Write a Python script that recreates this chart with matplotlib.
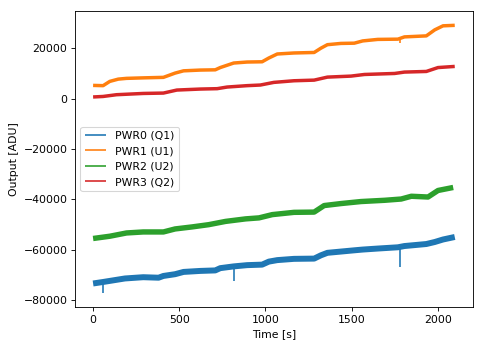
import numpy as np
import matplotlib
matplotlib.use("Agg")
import matplotlib.pyplot as plt

# values (time [s], output [ADU])
t_pwr0 = [0, 58, 185, 291, 380, 408, 476, 525, 622, 709, 738, 816, 894, 981,
          1020, 1069, 1166, 1283, 1322, 1360, 1438, 1516, 1565, 1652, 1769,
          1807, 1934, 1983, 2031, 2099]
pwr0 = [-73500, -72900, -71500, -71000, -71200, -70500, -69800, -68900, -68500,
        -68300, -67400, -66700, -66200, -66000, -64800, -64200, -63700, -63600,
        -62300, -61300, -60800, -60300, -60000, -59600, -59100, -58600, -57800,
        -57000, -56000, -55000]

t_pwr1 = [0, 58, 97, 146, 194, 291, 408, 428, 476, 525, 622, 709, 738, 816,
          894, 981, 1020, 1069, 1166, 1283, 1322, 1360, 1438, 1516, 1565, 1652,
          1769, 1807, 1934, 1983, 2031, 2099]
pwr1 = [5300, 5200, 6900, 7800, 8100, 8300, 8500, 9000, 10200, 11100, 11400,
        11500, 12400, 14200, 14600, 14700, 16200, 17800, 18200, 18400, 20100,
        21500, 22000, 22100, 23000, 23600, 23700, 24600, 25000, 27400, 29000,
        29200]

t_pwr2 = [0, 97, 194, 291, 408, 476, 574, 671, 769, 885, 963, 1040, 1166,
          1283, 1341, 1439, 1555, 1693, 1788, 1847, 1944, 2002, 2090]
pwr2 = [-55600, -54700, -53400, -53000, -53000, -51800, -51000, -50100, -48800,
        -47800, -47400, -46100, -45200, -45100, -42500, -41700, -40900, -40400,
        -39900, -38800, -39100, -36500, -35300]

t_pwr3 = [0, 58, 136, 291, 408, 486, 622, 720, 778, 894, 971, 1049, 1166,
          1283, 1360, 1497, 1575, 1750, 1807, 1934, 2002, 2099]
pwr3 = [700, 900, 1600, 2100, 2250, 3450, 3850, 4000, 4650, 5200, 5450, 6500,
        7150, 7400, 8600, 9000, 9650, 10050, 10600, 10850, 12400, 12850]

# short dips seen in the traces: time, lowest value
spike_t_pwr0 = [55, 818, 1784]
spike_lo_pwr0 = [-77300, -72500, -66800]
spike_t_pwr1 = [1784]
spike_lo_pwr1 = [22000]

labels = ["PWR0 (Q1)", "PWR1 (U1)", "PWR2 (U2)", "PWR3 (Q2)"]
colors = ["#1f77b4", "#ff7f0e", "#2ca02c", "#d62728"]
band = [5.5, 3.2, 5.0, 3.2]   # thickness of the noisy band, in points

DPI = 78
fig = plt.figure(figsize=(483 / DPI, 347 / DPI), dpi=DPI, facecolor="white")
ax = fig.add_axes([0.1553, 0.1153, 0.824, 0.853])

series = [(t_pwr0, pwr0), (t_pwr1, pwr1), (t_pwr2, pwr2), (t_pwr3, pwr3)]
for (t, y), lab, c, w in zip(series, labels, colors, band):
    ax.plot(t, y, color=c, lw=w, label=lab, solid_capstyle="butt")

# dips drawn as thin vertical strokes from the trace down to the minimum
ax.vlines(spike_t_pwr0, spike_lo_pwr0, np.interp(spike_t_pwr0, t_pwr0, pwr0),
          color=colors[0], lw=1.5)
ax.vlines(spike_t_pwr1, spike_lo_pwr1, np.interp(spike_t_pwr1, t_pwr1, pwr1),
          color=colors[1], lw=1.5)

ax.set_xlim(-105, 2205)
ax.set_ylim(-82850, 34900)
ax.set_xlabel("Time [s]")
ax.set_ylabel("Output [ADU]")

leg = ax.legend(loc="center left")
for line in leg.get_lines():
    line.set_linewidth(1.5)

fig.savefig("out.png", dpi=DPI)
